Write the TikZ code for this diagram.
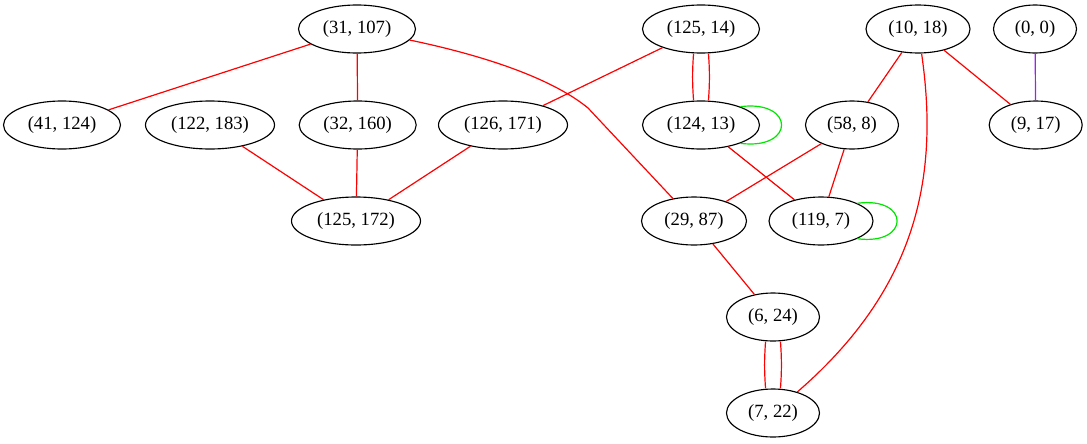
\documentclass[tikz,border=0pt]{standalone}
\usepackage{fontspec}
\setmainfont{Liberation Serif}
\usetikzlibrary{shapes.geometric}
\definecolor{edgered}{RGB}{255,0,0}
\definecolor{loopgreen}{RGB}{0,230,0}
\definecolor{edgepurple}{RGB}{160,32,240}
\begin{document}
\begin{tikzpicture}[x=0.75pt,y=-0.75pt,
  nd/.style={draw, ellipse, inner sep=0pt, minimum height=36pt, line width=0.85pt,
    font=\fontsize{14}{16}\selectfont},
  wA/.style={minimum width=87.75pt},
  wB/.style={minimum width=96.75pt},
  wC/.style={minimum width=78pt},
  wD/.style={minimum width=69.75pt},
  wE/.style={minimum width=62.25pt},
  wF/.style={minimum width=78.75pt},
  re/.style={draw=edgered, line width=0.9pt},
  ge/.style={draw=loopgreen, line width=0.9pt},
  pe/.style={draw=edgepurple, line width=0.9pt}]
\useasboundingbox (0,0) rectangle (1087,443);

% nodes, row by row
\node[nd,wA] (n31)  at (357,29)    {(31, 107)};
\node[nd,wA] (n125) at (701,29)    {(125, 14)};
\node[nd,wC] (n10)  at (918,29)    {(10, 18)};
\node[nd,wE] (n0)   at (1035,29)   {(0, 0)};

\node[nd,wA] (n41)  at (62,125)    {(41, 124)};
\node[nd,wB] (n122) at (210,125)   {(122, 183)};
\node[nd,wA] (n32)  at (357.7,125) {(32, 160)};
\node[nd,wB] (n126) at (503,125)   {(126, 171)};
\node[nd,wA] (n124) at (701,125)   {(124, 13)};
\node[nd,wD] (n58)  at (852,125)   {(58, 8)};
\node[nd,wD] (n9)   at (1035.7,125){(9, 17)};

\node[nd,wB] (n172) at (356,221)   {(125, 172)};
\node[nd,wF] (n29)  at (694,221)   {(29, 87)};
\node[nd,wC] (n119) at (821,221)   {(119, 7)};

\node[nd,wD] (n6)   at (773,317)   {(6, 24)};
\node[nd,wD] (n7)   at (773,413)   {(7, 22)};

% edges
\draw[re] (n31) -- (n41);
\draw[re] (n31) -- (n32);
\coordinate (bend31) at (588,108);
\draw[re] (n31) .. controls (505,60) and (560,85) .. (bend31) -- (n29);
\draw[re] (n125) -- (n126);
\draw[re] ([xshift=-5.6pt]n125.south) to[bend right=4] ([xshift=-5.6pt]n124.north);
\draw[re] ([xshift=5.6pt]n125.south) to[bend left=4] ([xshift=5.6pt]n124.north);
\draw[ge] (n124.25) .. controls +(55,-7) and +(55,7) .. (n124.-25);
\draw[re] (n124) -- (n119);
\draw[re] (n10) -- (n58);
\draw[re] (n10) -- (n9);
\draw[re] (n10) .. controls (940,180) and (915,290) .. (n7);
\draw[pe] (n0) -- (n9);
\draw[re] (n58) -- (n29);
\draw[re] (n58) -- (n119);
\draw[ge] (n119.26) .. controls +(53,-7) and +(53,7) .. (n119.-26);
\draw[re] (n122) -- (n172);
\draw[re] (n32) -- (n172);
\draw[re] (n126) -- (n172);
\draw[re] (n29) -- (n6);
\draw[re] ([xshift=-5.6pt]n6.south) to[bend right=4] ([xshift=-5.6pt]n7.north);
\draw[re] ([xshift=5.6pt]n6.south) to[bend left=4] ([xshift=5.6pt]n7.north);
\end{tikzpicture}
\end{document}
